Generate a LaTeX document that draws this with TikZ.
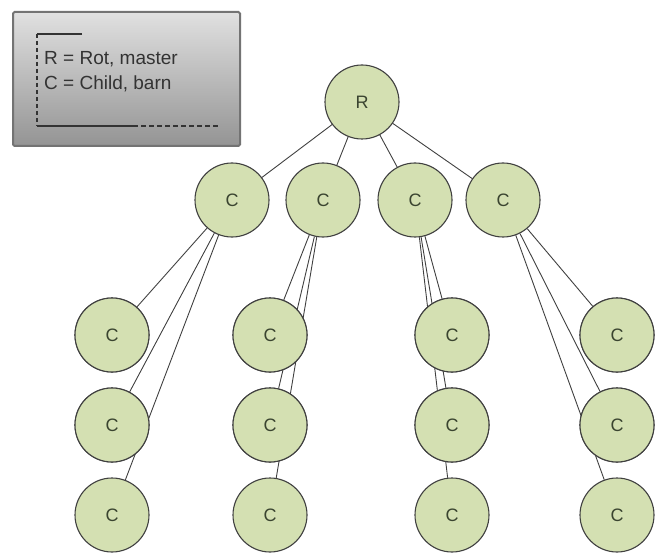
\documentclass[tikz,border=0pt]{standalone}
\usepackage{fontspec}
\setmainfont{Liberation Sans}
\begin{document}
\begin{tikzpicture}[x=1pt,y=-1pt,
  vertex/.style={circle,draw=black!75,line width=1.1pt,fill=nodegreen,
    minimum size=74pt,inner sep=0pt,text=labelgrey,
    font=\fontsize{18}{18}\selectfont},
  link/.style={draw=black!75,line width=0.9pt},
  legendbox/.style={draw=black!55,line width=2pt,rounded corners=1.5pt,
    top color=black!12,bottom color=black!42}]
\definecolor{nodegreen}{HTML}{D4E0B2}
\definecolor{labelgrey}{HTML}{3A4430}
\useasboundingbox (0,0) rectangle (655,553);

% legend panel
\path[legendbox] (13,12) rectangle (240,146);
\draw[line width=1.2pt,black!80] (82,34) -- (37,34);
\draw[line width=1.2pt,black!80,dashed,dash pattern=on 4pt off 3pt] (37,34) -- (37,126);
\draw[line width=1.2pt,black!80] (37,126) -- (133,126);
\draw[line width=1.2pt,black!80,dash pattern=on 5pt off 3pt] (133,126) -- (219,126);
\node[anchor=base west,inner sep=0pt,text=black!80,
  font=\fontsize{19}{25}\selectfont] (legendR) at (44,65) {R = Rot, master};
\node[anchor=base west,inner sep=0pt,text=black!80,
  font=\fontsize{19}{25}\selectfont] (legendC) at (44,90) {C = Child, barn};

% root and first level
\node[vertex] (r) at (362,102) {R};
\node[vertex] (a) at (232,200) {C};
\node[vertex] (b) at (323,200) {C};
\node[vertex] (c) at (415,200) {C};
\node[vertex] (d) at (503,200) {C};

% second level, three per column
\foreach \col/\x in {a/112,b/270,c/452,d/617}{
  \node[vertex] (\col1) at (\x,335) {C};
  \node[vertex] (\col2) at (\x,425) {C};
  \node[vertex] (\col3) at (\x,515) {C};
}

% connectors
\foreach \n in {a,b,c,d}{
  \path[link] (r) -- (\n);
  \path[link] (\n) -- (\n1);
  \path[link] (\n) -- (\n2);
  \path[link] (\n) -- (\n3);
}
% redraw lower circles so the long lines pass behind them
\foreach \col/\x in {a/112,b/270,c/452,d/617}{
  \node[vertex] at (\x,335) {C};
  \node[vertex] at (\x,425) {C};
}
\end{tikzpicture}
\end{document}
